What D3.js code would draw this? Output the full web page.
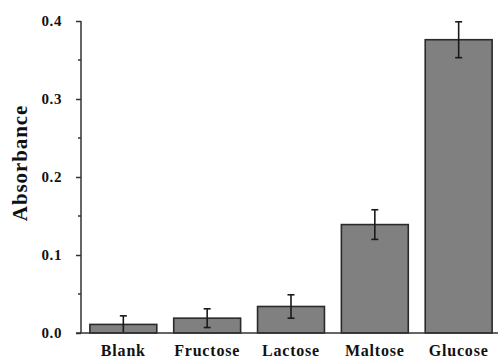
<!DOCTYPE html>
<html>
<head>
<meta charset="utf-8">
<script src="https://cdn.jsdelivr.net/npm/d3@7"></script>
<style>
  body { margin: 0; background: #fff; }
  svg { display: block; }
</style>
</head>
<body>
<div id="vis"></div>
<script>
const categories = ["Blank", "Fructose", "Lactose", "Maltose", "Glucose"]
const absorbance = [0.011, 0.019, 0.034, 0.139, 0.376]
const errors = [0.011, 0.012, 0.015, 0.019, 0.023]
const majorTicks = [0.0, 0.1, 0.2, 0.3, 0.4]
const minorTicks = [0.05, 0.15, 0.25, 0.35]

const width = 498
const height = 358
const margin = { top: 21, right: 0, bottom: 25, left: 81 }
const fontFamily = "'Liberation Serif', 'Times New Roman', serif"

const svg = d3.select("#vis").append("svg")
  .attr("width", width)
  .attr("height", height)
  .attr("font-family", fontFamily)
  .attr("font-weight", "bold")

const y = d3.scaleLinear()
  .domain([0, 0.4])
  .range([333, 21])

const x = d3.scaleBand()
  .domain(categories)
  .range([margin.left, margin.left + 420])
  .paddingInner(0.19)
  .paddingOuter(0.1)

const data = categories.map((c, i) => ({ name: c, value: absorbance[i], err: errors[i] }))

// bars
svg.append("g")
  .selectAll("rect")
  .data(data)
  .join("rect")
  .attr("x", d => x(d.name) + 0.5)
  .attr("y", d => y(d.value))
  .attr("width", x.bandwidth() - 1)
  .attr("height", d => y(0) - y(d.value))
  .attr("fill", "#808080")
  .attr("stroke", "#2a2a2a")
  .attr("stroke-width", 1.6)

// error bars
const eb = svg.append("g")
  .attr("stroke", "#1a1a1a")
  .attr("stroke-width", 1.6)
eb.selectAll("line.v")
  .data(data)
  .join("line")
  .attr("class", "v")
  .attr("x1", d => x(d.name) + x.bandwidth() / 2)
  .attr("x2", d => x(d.name) + x.bandwidth() / 2)
  .attr("y1", d => y(d.value + d.err))
  .attr("y2", d => y(Math.max(0, d.value - d.err)))
eb.selectAll("line.top")
  .data(data)
  .join("line")
  .attr("class", "top")
  .attr("x1", d => x(d.name) + x.bandwidth() / 2 - 3.5)
  .attr("x2", d => x(d.name) + x.bandwidth() / 2 + 3.5)
  .attr("y1", d => y(d.value + d.err))
  .attr("y2", d => y(d.value + d.err))
eb.selectAll("line.bot")
  .data(data.filter(d => d.value - d.err > 0.002))
  .join("line")
  .attr("class", "bot")
  .attr("x1", d => x(d.name) + x.bandwidth() / 2 - 3.5)
  .attr("x2", d => x(d.name) + x.bandwidth() / 2 + 3.5)
  .attr("y1", d => y(d.value - d.err))
  .attr("y2", d => y(d.value - d.err))

// y axis
const yAxis = svg.append("g")
  .attr("transform", `translate(${margin.left},0)`)
  .call(d3.axisLeft(y).tickValues(majorTicks).tickFormat(d3.format(".1f")).tickSize(5).tickPadding(14))
  .call(g => g.select(".domain").remove())
  .call(g => g.selectAll(".tick line").attr("stroke", "#333").attr("stroke-width", 1.5))
  .call(g => g.selectAll(".tick text")
    .attr("fill", "#111")
    .attr("font-size", 15)
    .attr("letter-spacing", 0.6)
    .attr("font-family", fontFamily)
    .attr("font-weight", "bold"))

yAxis.selectAll("line.minor")
  .data(minorTicks)
  .join("line")
  .attr("class", "minor")
  .attr("x1", -3)
  .attr("x2", 0)
  .attr("y1", d => y(d))
  .attr("y2", d => y(d))
  .attr("stroke", "#333")
  .attr("stroke-width", 1.5)

svg.append("line")
  .attr("x1", margin.left)
  .attr("x2", margin.left)
  .attr("y1", y(0.4))
  .attr("y2", y(0))
  .attr("stroke", "#333")
  .attr("stroke-width", 1.5)

// baseline
svg.append("line")
  .attr("x1", margin.left - 5)
  .attr("x2", width)
  .attr("y1", y(0))
  .attr("y2", y(0))
  .attr("stroke", "#333")
  .attr("stroke-width", 1.5)

// x labels
svg.append("g")
  .selectAll("text")
  .data(categories)
  .join("text")
  .attr("x", d => x(d) + x.bandwidth() / 2)
  .attr("y", 356)
  .attr("text-anchor", "middle")
  .attr("font-size", 16)
  .attr("letter-spacing", 0.8)
  .attr("fill", "#111")
  .text(d => d)

// y label
svg.append("text")
  .attr("transform", `translate(27,163) rotate(-90)`)
  .attr("text-anchor", "middle")
  .attr("font-size", 21)
  .attr("letter-spacing", 0.9)
  .attr("fill", "#111")
  .text("Absorbance")
</script>
</body>
</html>
